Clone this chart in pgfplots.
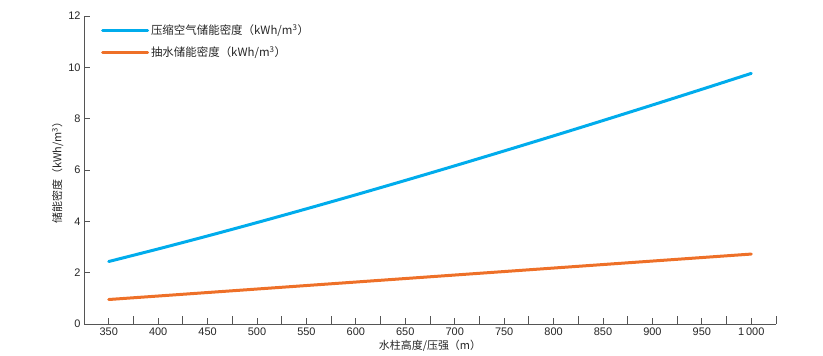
\documentclass[border=0pt]{standalone}
\usepackage{fontspec}
\setmainfont{Liberation Sans}
\newfontfamily\cjk{Noto Sans CJK SC}
\usepackage{pgfplots}
\pgfplotsset{compat=1.18}
\definecolor{cair}{RGB}{0,172,236}
\definecolor{phyd}{RGB}{238,112,40}
\definecolor{axgray}{RGB}{85,85,85}
\begin{document}
\begin{tikzpicture}
\path (-84bp,-32bp) rectangle (739bp,324bp);
\begin{axis}[
  at={(0,0)}, anchor=south west,
  scale only axis, width=692bp, height=308bp,
  xmin=325, xmax=1025, ymin=0, ymax=12,
  axis lines*=left,
  axis line style={axgray, line width=0.9pt},
  every tick/.style={axgray, line width=0.9pt},
  xtick={350,400,...,1000},
  minor xtick={375,425,...,1025},
  ytick={0,2,...,12},
  tick align=inside,
  major tick length=6bp,
  minor tick length=8bp,
  /pgf/number format/assume math mode=true,
  /pgf/number format/1000 sep={\,},
  tick label style={font=\fontsize{11}{13}\selectfont, text=black!85},
  xlabel={\cjk 水柱高度/压强（m）},
  ylabel={\cjk 储能密度（kWh/m\textsuperscript{3}）},
  label style={font=\fontsize{11}{13}\selectfont, text=black!85},
  xlabel style={yshift=2.5bp},
  ylabel style={yshift=-2bp},
  legend style={at={(0.02,0.985)}, anchor=north west, draw=none, fill=none,
    font=\cjk\fontsize{11.5}{14}\selectfont, text=black!85, row sep=6bp},
  legend cell align=left,
  legend image code/.code={\draw[#1, line width=3bp] (0bp,0bp) -- (45bp,0bp);},
]
\addplot[cair, line width=3bp, line cap=round, smooth] coordinates {
(350,2.4345) (400,2.9238) (450,3.4302) (500,3.9517) (550,4.4869) (600,5.0345) (650,5.5935)
(700,6.1629) (750,6.7422) (800,7.3304) (850,7.9273) (900,8.5321) (950,9.1445) (1000,9.7641)};
\addlegendentry{压缩空气储能密度（kWh/m\textsuperscript{3}）}
\addplot[phyd, line width=3bp, line cap=round] coordinates {
(350,0.9538) (400,1.0900) (450,1.2263) (500,1.3625) (550,1.4988) (600,1.6350) (650,1.7713)
(700,1.9075) (750,2.0438) (800,2.1800) (850,2.3163) (900,2.4525) (950,2.5888) (1000,2.7250)};
\addlegendentry{抽水储能密度（kWh/m\textsuperscript{3}）}
\end{axis}
\end{tikzpicture}
\end{document}
